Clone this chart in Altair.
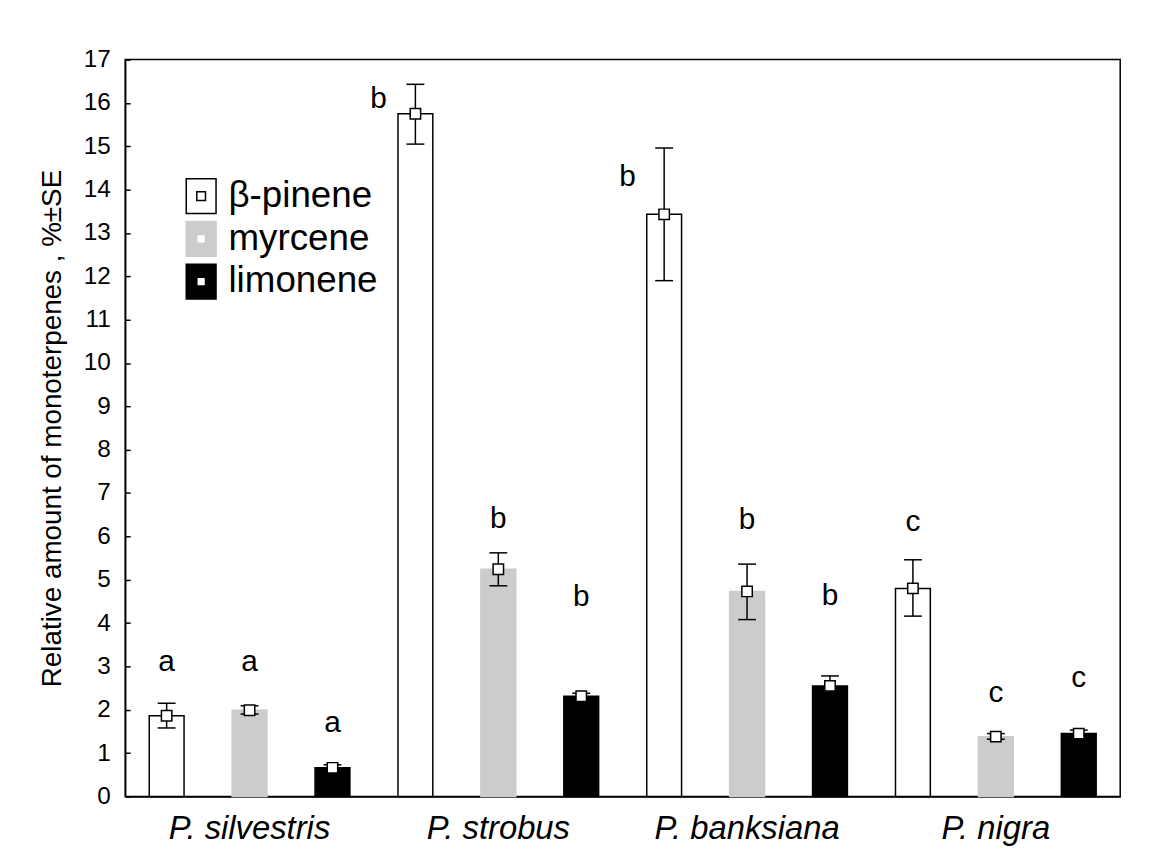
import altair as alt
import pandas as pd

species = ["P. silvestris", "P. strobus", "P. banksiana", "P. nigra"]
compounds = ["β-pinene", "myrcene", "limonene"]
fill_colors = ["#ffffff", "#cccccc", "#000000"]
stroke_colors = ["#000000", "#cccccc", "#000000"]

mean_pinene = [1.86, 15.75, 13.43, 4.80]
mean_myrcene = [1.99, 5.24, 4.73, 1.38]
mean_limonene = [0.66, 2.31, 2.55, 1.45]

lo_pinene = [1.58, 15.05, 11.90, 4.16]
hi_pinene = [2.15, 16.43, 14.96, 5.46]
lo_myrcene = [1.90, 4.86, 4.08, 1.32]
hi_myrcene = [2.09, 5.62, 5.36, 1.45]
lo_limonene = [0.60, 2.25, 2.36, 1.40]
hi_limonene = [0.73, 2.38, 2.78, 1.53]

letters_pinene = ["a", "b", "b", "c"]
letters_myrcene = ["a", "b", "b", "c"]
letters_limonene = ["a", "b", "b", "c"]
letter_y_pinene = [3.1, 16.1, 14.3, 6.32]
letter_y_myrcene = [3.1, 6.39, 6.37, 2.38]
letter_y_limonene = [1.7, 4.6, 4.63, 2.73]

y_ticks = list(range(0, 18))

series = {
    "β-pinene": (mean_pinene, lo_pinene, hi_pinene, letters_pinene, letter_y_pinene),
    "myrcene": (mean_myrcene, lo_myrcene, hi_myrcene, letters_myrcene, letter_y_myrcene),
    "limonene": (mean_limonene, lo_limonene, hi_limonene, letters_limonene, letter_y_limonene),
}
rows = []
for comp in compounds:
    m, lo, hi, let, ly = series[comp]
    for i, sp in enumerate(species):
        rows.append(dict(species=sp, compound=comp, mean=m[i], lo=lo[i], hi=hi[i],
                         letter=let[i], ly=ly[i]))
df = pd.DataFrame(rows)

FONT = "Liberation Sans"
W, H = 1002, 742

x_scale = alt.Scale(domain=species, paddingInner=0, paddingOuter=0)
y_scale = alt.Scale(domain=[0, 17], nice=False, zero=True)
xo = alt.XOffset("compound:N", sort=compounds,
                 scale=alt.Scale(domain=compounds, paddingInner=0.58, paddingOuter=0.29))
x_noaxis = alt.X("species:N", sort=species, scale=x_scale, axis=None)

legend_path = "M-0.857,-1H0.857V1H-0.857Z M-0.25,-0.25V0.25H0.25V-0.25Z"
legend = alt.Legend(orient="none", legendX=58, legendY=119, title=None,
                    symbolType=legend_path, symbolSize=1225, symbolStrokeWidth=1.5,
                    labelFont=FONT, labelFontSize=37, labelColor="black", labelLimit=0,
                    labelOffset=9, rowPadding=2, padding=0)

base = alt.Chart(df)

bars = base.mark_bar(strokeWidth=1.5).encode(
    x=alt.X("species:N", sort=species, scale=x_scale, title=None,
            axis=alt.Axis(orient="bottom", labelFont=FONT, labelFontSize=33,
                          labelFontStyle="italic", labelColor="black", labelAngle=0,
                          labelLimit=0, labelOverlap=False,
                          ticks=False, tickSize=0, labelPadding=16,
                          domainColor="black", domainWidth=1.5)),
    xOffset=xo,
    y=alt.Y("mean:Q", scale=y_scale,
            axis=alt.Axis(orient="left", values=y_ticks, ticks=False, tickSize=0, grid=False,
                          labelFont=FONT, labelFontSize=24.5, labelColor="black",
                          labelPadding=15, labelOverlap=False,
                          title="Relative amount of monoterpenes , %±SE",
                          titleFont=FONT, titleFontSize=28, titleFontWeight="normal",
                          titleColor="black", titlePadding=17,
                          domainColor="black", domainWidth=1.5)),
    fill=alt.Fill("compound:N", scale=alt.Scale(domain=compounds, range=fill_colors),
                  legend=legend),
    stroke=alt.Stroke("compound:N", scale=alt.Scale(domain=compounds, range=stroke_colors),
                      legend=legend),
)

rules = base.mark_rule(strokeWidth=1.5, color="black").encode(
    x=alt.X("species:N", sort=species, scale=x_scale, title=None,
            axis=alt.Axis(orient="top", offset=-H, labels=False, ticks=True, tickSize=5,
                          tickWidth=1.5, tickColor="black", domain=False, grid=False)),
    xOffset=xo,
    y=alt.Y("lo:Q", scale=y_scale, title=None,
            axis=alt.Axis(orient="right", offset=-W, values=y_ticks, labels=False,
                          ticks=True, tickSize=5, tickWidth=1.5, tickColor="black",
                          domain=False, grid=False)),
    y2="hi:Q",
)

cap_lo = base.mark_tick(size=18, thickness=1.5, color="black", opacity=1).encode(
    x=x_noaxis, xOffset=xo, y=alt.Y("lo:Q", scale=y_scale, axis=None))
cap_hi = base.mark_tick(size=18, thickness=1.5, color="black", opacity=1).encode(
    x=x_noaxis, xOffset=xo, y=alt.Y("hi:Q", scale=y_scale, axis=None))

points = base.mark_point(shape="square", filled=True, fill="white", stroke="black",
                         strokeWidth=1.5, size=110, opacity=1).encode(
    x=x_noaxis, xOffset=xo, y=alt.Y("mean:Q", scale=y_scale, axis=None))

text_top = base.mark_text(font=FONT, fontSize=30, baseline="middle", color="black").encode(
    x=x_noaxis, xOffset=xo, y=alt.Y("ly:Q", scale=y_scale, axis=None), text="letter:N"
).transform_filter("datum.ly > datum.hi")

text_side = base.mark_text(font=FONT, fontSize=30, baseline="middle", color="black",
                           dx=-37).encode(
    x=x_noaxis, xOffset=xo, y=alt.Y("ly:Q", scale=y_scale, axis=None), text="letter:N"
).transform_filter("datum.ly <= datum.hi")

chart = alt.layer(bars, rules, cap_lo, cap_hi, points, text_top, text_side).resolve_axis(
    x="independent", y="independent"
).properties(
    width=W, height=H,
    autosize=alt.AutoSizeParams(type="none"),
    padding={"left": 118, "top": 49, "right": 30, "bottom": 54},
).configure_view(stroke="black", strokeWidth=1.5)

chart.save("out.html", embed_options={"renderer": "svg", "actions": False})
